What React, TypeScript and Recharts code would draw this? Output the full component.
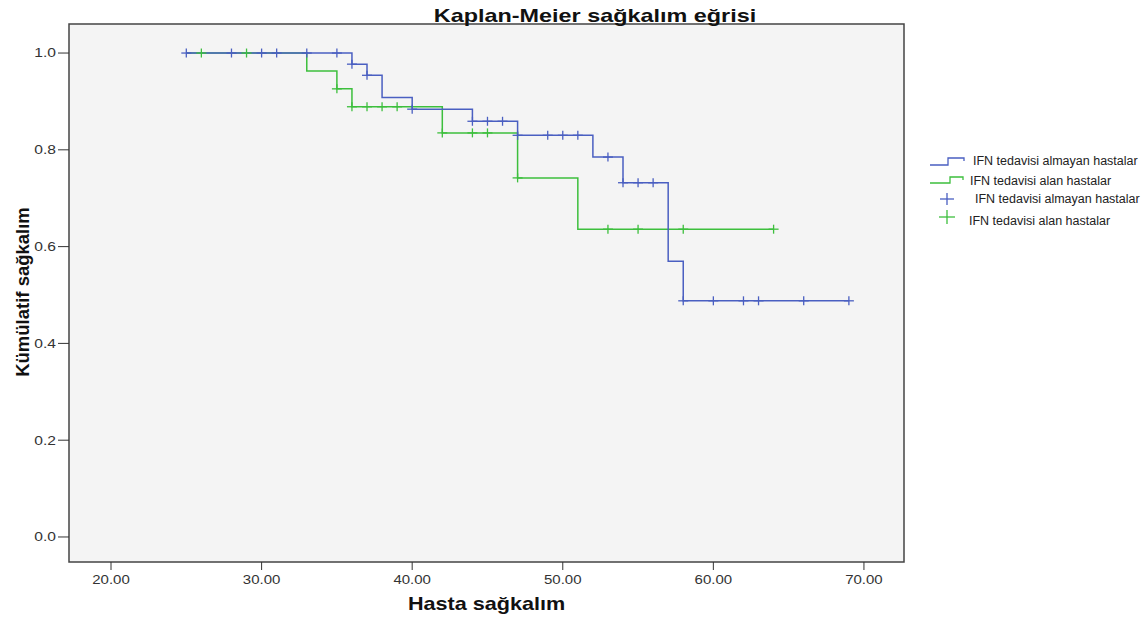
import React from 'react';
import { ComposedChart, Line, Scatter, XAxis, YAxis, ReferenceArea } from 'recharts';

const seriesNames = ['IFN tedavisi almayan hastalar', 'IFN tedavisi alan hastalar'];
const seriesColors = ['#4a5fc1', '#3dbf3d'];

// Kaplan-Meier steps (time, cumulative survival)
const noIfnTimes = [25, 36, 37, 38, 40, 44, 47, 52, 54, 57, 58, 69];
const noIfnSurv = [1.0, 0.977, 0.954, 0.908, 0.884, 0.859, 0.83, 0.785, 0.732, 0.57, 0.488, 0.488];
const ifnTimes = [25, 33, 35, 36, 42, 47, 51, 64];
const ifnSurv = [1.0, 0.963, 0.926, 0.889, 0.835, 0.742, 0.636, 0.636];

// censored cases
const noIfnCensTimes = [25, 28, 30, 31, 33, 35, 36, 37, 40, 44, 45, 46, 47, 49, 50, 51, 53, 54, 55, 56, 58, 60, 62, 63, 66, 69];
const noIfnCensSurv = [1, 1, 1, 1, 1, 1, 0.977, 0.954, 0.884, 0.859, 0.859, 0.859, 0.83, 0.83, 0.83, 0.83, 0.785, 0.732, 0.732, 0.732, 0.488, 0.488, 0.488, 0.488, 0.488, 0.488];
const ifnCensTimes = [26, 29, 35, 36, 37, 38, 39, 42, 44, 45, 47, 53, 55, 58, 64];
const ifnCensSurv = [1, 1, 0.926, 0.889, 0.889, 0.889, 0.889, 0.835, 0.835, 0.835, 0.742, 0.636, 0.636, 0.636, 0.636];

const xTicks = [20, 30, 40, 50, 60, 70];
const yTicks = [0, 0.2, 0.4, 0.6, 0.8, 1.0];

const X_MIN = 17.21;
const X_MAX = 72.66;
const Y_MIN = -0.0517;
const Y_MAX = 1.06;

const FONT = '"Liberation Sans", Arial, sans-serif';

const toPoints = (xs: number[], ys: number[]) => xs.map((x, i) => ({ x, y: ys[i] }));

const crossShape = (color: string) => (props: any) => {
  const { cx, cy } = props;
  return (
    <g stroke={color} strokeWidth={1.3}>
      <line x1={cx - 5} x2={cx + 5} y1={cy} y2={cy} />
      <line x1={cx} x2={cx} y1={cy - 4.5} y2={cy + 4.5} />
    </g>
  );
};

const XTick = ({ x, y, payload }: any) => (
  <g transform={`translate(${x},${y}) scale(1.25,1)`}>
    <text x={0} y={0} dy={12} textAnchor="middle" fontSize={12} fill="#333" fontFamily={FONT}>
      {payload.value.toFixed(2)}
    </text>
  </g>
);

const YTick = ({ x, y, payload }: any) => (
  <g transform={`translate(${x},${y}) scale(1.3,1)`}>
    <text x={0} y={0} dy={4.3} textAnchor="end" fontSize={12} fill="#333" fontFamily={FONT}>
      {payload.value.toFixed(1)}
    </text>
  </g>
);

const Overlay = () => (
  <svg
    width={1143}
    height={619}
    style={{ position: 'absolute', left: 0, top: 0, pointerEvents: 'none' }}
    fontFamily={FONT}
  >
    <g transform="translate(595,21.5) scale(1.3,1)">
      <text textAnchor="middle" fontSize={18} fontWeight="bold" fill="#111">
        Kaplan-Meier sağkalım eğrisi
      </text>
    </g>
    <g transform="translate(486.5,610) scale(1.2,1)">
      <text textAnchor="middle" fontSize={18} fontWeight="bold" fill="#111">
        Hasta sağkalım
      </text>
    </g>
    <g transform="translate(29,292) rotate(-90)">
      <text textAnchor="middle" fontSize={18.5} fontWeight="bold" fill="#111">
        Kümülatif sağkalım
      </text>
    </g>

    {/* legend */}
    <path d="M930,165 H948 V158 H964 V161" fill="none" stroke={seriesColors[0]} strokeWidth={1.3} />
    <text x={973} y={164.5} fontSize={12.5} fill="#222">{seriesNames[0]}</text>
    <path d="M930,183 H950 V177 H963 V180" fill="none" stroke={seriesColors[1]} strokeWidth={1.3} />
    <text x={970} y={185} fontSize={12.5} fill="#222">{seriesNames[1]}</text>
    <g stroke={seriesColors[0]} strokeWidth={1.3}>
      <line x1={940} x2={954} y1={199} y2={199} />
      <line x1={947} x2={947} y1={193} y2={205} />
    </g>
    <text x={975} y={203} fontSize={12.5} fill="#222">{seriesNames[0]}</text>
    <g stroke={seriesColors[1]} strokeWidth={1.3}>
      <line x1={939} x2={955} y1={217} y2={217} />
      <line x1={947} x2={947} y1={210} y2={224} />
    </g>
    <text x={969} y={225} fontSize={12.5} fill="#222">{seriesNames[1]}</text>
  </svg>
);

export default function App() {
  return (
    <div style={{ position: 'absolute', left: 0, top: 0, width: 1143, height: 619, background: '#fff' }}>
      <ComposedChart width={1143} height={619} margin={{ top: 24, right: 239, bottom: 0, left: 0 }}>
        <ReferenceArea
          x1={X_MIN}
          x2={X_MAX}
          y1={Y_MIN}
          y2={Y_MAX}
          fill="#f4f4f4"
          fillOpacity={1}
          stroke="#444"
          strokeWidth={1.5}
        />
        <XAxis
          type="number"
          dataKey="x"
          domain={[X_MIN, X_MAX]}
          ticks={xTicks}
          height={57}
          axisLine={false}
          tickSize={8}
          tickLine={{ stroke: '#333' }}
          tick={<XTick />}
          allowDataOverflow
        />
        <YAxis
          type="number"
          dataKey="y"
          domain={[Y_MIN, Y_MAX]}
          ticks={yTicks}
          width={69}
          axisLine={false}
          tickSize={11}
          tickLine={{ stroke: '#333' }}
          tick={<YTick />}
          allowDataOverflow
        />
        <Line
          data={toPoints(ifnTimes, ifnSurv)}
          dataKey="y"
          type="stepAfter"
          stroke={seriesColors[1]}
          strokeWidth={1.5}
          dot={false}
          isAnimationActive={false}
        />
        <Line
          data={toPoints(noIfnTimes, noIfnSurv)}
          dataKey="y"
          type="stepAfter"
          stroke={seriesColors[0]}
          strokeWidth={1.5}
          dot={false}
          isAnimationActive={false}
        />
        <Scatter
          data={toPoints(ifnCensTimes, ifnCensSurv)}
          dataKey="y"
          shape={crossShape(seriesColors[1])}
          isAnimationActive={false}
        />
        <Scatter
          data={toPoints(noIfnCensTimes, noIfnCensSurv)}
          dataKey="y"
          shape={crossShape(seriesColors[0])}
          isAnimationActive={false}
        />
      </ComposedChart>
      <Overlay />
    </div>
  );
}
